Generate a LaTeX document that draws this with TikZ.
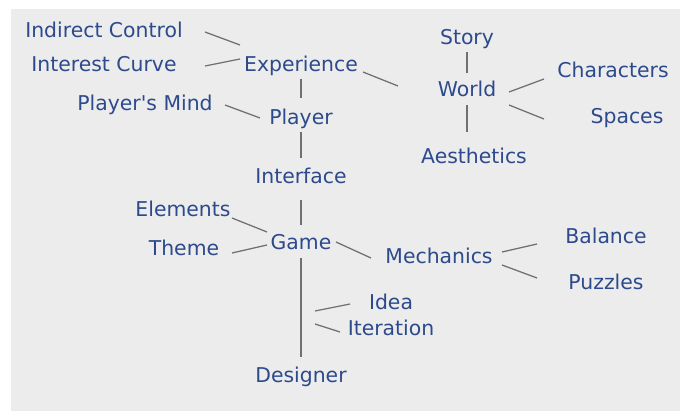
\documentclass[tikz,border=0pt]{standalone}
\usepackage{fontspec}
\usepackage{xcolor}
\usepackage{tikz}
\usetikzlibrary{positioning, calc}
\newfontfamily\handfont{DejaVu Sans}
\definecolor{inkblue}{RGB}{44,74,140}
\definecolor{linkgray}{RGB}{112,112,112}
\definecolor{paper}{RGB}{236,236,236}

\begin{document}
\begin{tikzpicture}[on grid, font=\handfont\fontsize{14.5}{17}\selectfont]
    % Node Styles
    \tikzstyle{topic} = [text=inkblue, inner sep=0pt, text height=0.88em, text depth=0pt]
    \tikzstyle{line} = [draw, linkgray, line width=0.9pt]

    % Canvas
    \useasboundingbox (0,0) rectangle (17,-10.275);
    \fill[white] (0,0) rectangle (17,-10.275);
    \fill[paper] (0.275,-0.225) rectangle (17,-10.275);

    % Spine
    \node [topic] (exp) at (7.525,-1.625) {Experience};
    \node [topic, below=1.325cm of exp] (player) {Player};
    \node [topic, below=1.475cm of player] (iface) {Interface};
    \node [topic, below=1.65cm of iface] (game) {Game};
    \node [topic, below=3.325cm of game] (designer) {Designer};

    % Left side
    \node [topic, above left=0.85cm and 4.925cm of exp] (indirect) {Indirect Control};
    \node [topic, left=4.925cm of exp] (curve) {Interest Curve};
    \node [topic, above left=0.35cm and 3.9cm of player] (mind) {Player's Mind};
    \node [topic, above left=0.825cm and 2.95cm of game] (elements) {Elements};
    \node [topic, below left=0.15cm and 2.925cm of game] (theme) {Theme};

    % World
    \node [topic, below right=0.625cm and 4.15cm of exp] (world) {World};
    \node [topic, above=1.3cm of world] (story) {Story};
    \node [topic, below right=1.675cm and 0.175cm of world] (aesth) {Aesthetics};
    \node [topic, above right=0.475cm and 3.65cm of world] (chars) {Characters};
    \node [topic, below right=0.675cm and 4cm of world] (spaces) {Spaces};

    % Mechanics
    \node [topic, below right=0.35cm and 3.45cm of game] (mech) {Mechanics};
    \node [topic, above right=0.5cm and 4.175cm of mech] (balance) {Balance};
    \node [topic, below right=0.65cm and 4.175cm of mech] (puzzles) {Puzzles};

    % Designer side
    \node [topic, below right=1.5cm and 2.25cm of game] (idea) {Idea};
    \node [topic, below=0.65cm of idea] (iter) {Iteration};

    % Links
    \draw [line] ([shift={(2.525,-0.025)}]indirect.center) -- ([shift={(-1.525,0.5)}]exp.center);
    \draw [line] ([shift={(2.525,-0.025)}]curve.center) -- ([shift={(-1.525,0.15)}]exp.center);
    \draw [line] ([yshift=-0.35cm]exp.center) -- ([yshift=0.5cm]player.center);
    \draw [line] ([shift={(2,-0.025)}]mind.center) -- ([shift={(-1.025,0)}]player.center);
    \draw [line] ([yshift=-0.35cm]player.center) -- ([yshift=0.475cm]iface.center);
    \draw [line] ([yshift=-0.575cm]iface.center) -- ([yshift=0.45cm]game.center);
    \draw [line] ([shift={(1.225,-0.2)}]elements.center) -- ([shift={(-0.85,0.275)}]game.center);
    \draw [line] ([shift={(1.2,-0.1)}]theme.center) -- ([shift={(-0.85,-0.05)}]game.center);
    \draw [line] ([shift={(0.875,0.025)}]game.center) -- ([shift={(-1.7,-0.025)}]mech.center);
    \draw [line] ([yshift=-0.375cm]game.center) -- ([yshift=0.475cm]designer.center);
    \draw [line] ([shift={(0.35,-1.7)}]game.center) -- ([shift={(-1.025,-0.025)}]idea.center);
    \draw [line] ([shift={(0.35,-2.025)}]game.center) -- ([shift={(-1.275,-0.075)}]iter.center);
    \draw [line] ([shift={(1.575,0.125)}]mech.center) -- ([shift={(-1.725,-0.175)}]balance.center);
    \draw [line] ([shift={(1.575,-0.2)}]mech.center) -- ([shift={(-1.725,0.125)}]puzzles.center);
    \draw [line] ([shift={(1.55,-0.175)}]exp.center) -- ([shift={(-1.725,0.1)}]world.center);
    \draw [line] ([yshift=-0.35cm]story.center) -- ([yshift=0.425cm]world.center);
    \draw [line] ([yshift=-0.375cm]world.center) -- ([shift={(-0.175,0.625)}]aesth.center);
    \draw [line] ([shift={(1.05,-0.05)}]world.center) -- ([shift={(-1.725,-0.2)}]chars.center);
    \draw [line] ([shift={(1.05,-0.375)}]world.center) -- ([shift={(-2.075,-0.05)}]spaces.center);
\end{tikzpicture}
\end{document}
